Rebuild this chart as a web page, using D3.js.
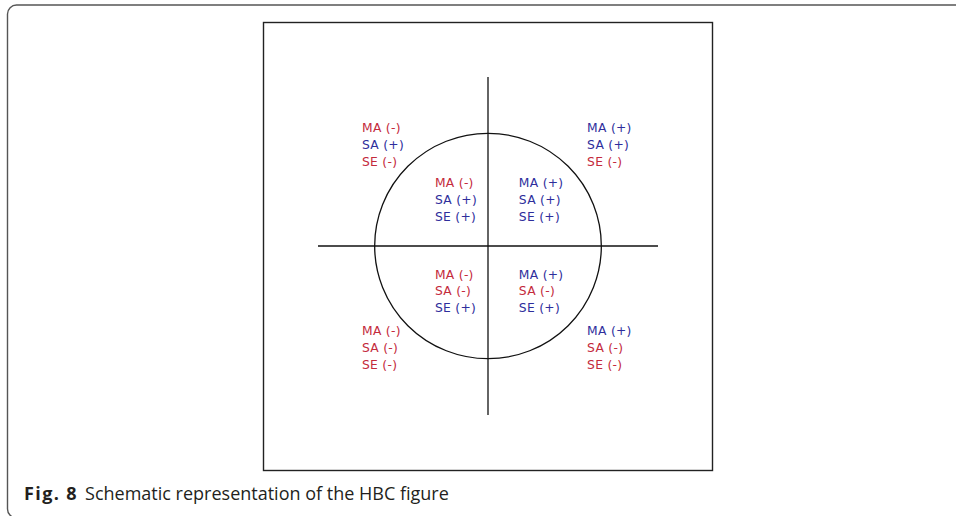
<!DOCTYPE html>
<html><head><meta charset="utf-8">
<script src="https://cdn.jsdelivr.net/npm/d3@7"></script>
<style>body{margin:0;background:#fff;}svg{display:block;}</style>
</head><body>
<script>
// Data: HBC quadrant labels (signs for MA, SA, SE) in each region
const measures = ["MA", "SA", "SE"];
const regions = ["outerTL", "outerTR", "innerTL", "innerTR", "innerBL", "innerBR", "outerBL", "outerBR"];
const maSigns = ["-", "+", "-", "+", "-", "+", "-", "+"];
const saSigns = ["+", "+", "+", "+", "-", "-", "-", "-"];
const seSigns = ["-", "-", "+", "+", "+", "+", "-", "-"];
const caption = ["Fig. 8", "Schematic representation of the HBC figure"];

const W = 956, H = 516;
const svg = d3.select("body").append("svg").attr("width", W).attr("height", H);
const red = "#c42a3c", blue = "#2e2e9c";

// outer card frame
svg.append("rect").attr("x", 7.5).attr("y", 5).attr("width", 1000).attr("height", 513)
  .attr("rx", 9).attr("fill", "none").attr("stroke", "#555").attr("stroke-width", 1.4);

// inner box
svg.append("rect").attr("x", 263.5).attr("y", 22.5).attr("width", 449).attr("height", 448)
  .attr("fill", "#fff").attr("stroke", "#222").attr("stroke-width", 1.4);

const x = d3.scaleLinear().domain([-1.5, 1.5]).range([318, 658]);
const y = d3.scaleLinear().domain([-1.5, 1.5]).range([415, 77]);

const g = svg.append("g");
g.append("line").attr("x1", x(-1.5)).attr("x2", x(1.5)).attr("y1", y(0)).attr("y2", y(0))
  .attr("stroke", "#111").attr("stroke-width", 1.3);
g.append("line").attr("x1", x(0)).attr("x2", x(0)).attr("y1", y(-1.5)).attr("y2", y(1.5))
  .attr("stroke", "#111").attr("stroke-width", 1.3);
g.append("ellipse").attr("cx", x(0)).attr("cy", y(0))
  .attr("rx", x(1) - x(0)).attr("ry", y(0) - y(1))
  .attr("fill", "none").attr("stroke", "#111").attr("stroke-width", 1.3);

// anchor (data units) of each region's label block: left edge and block centre
const anchors = {
  outerTL: [-1.112, 0.90], outerTR: [0.874, 0.90],
  innerTL: [-0.468, 0.41], innerTR: [0.272, 0.41],
  innerBL: [-0.468, -0.40], innerBR: [0.272, -0.40],
  outerBL: [-1.112, -0.90], outerBR: [0.874, -0.90]
};
const lineH = 16.8;
regions.forEach((r, i) => {
  const signs = [maSigns[i], saSigns[i], seSigns[i]];
  const [ax, ay] = anchors[r];
  const t = g.append("text").attr("x", x(ax)).attr("y", y(ay))
    .attr("font-family", "DejaVu Sans, sans-serif").attr("font-size", 12.3)
    .attr("letter-spacing", 0.3);
  measures.forEach((m, k) => {
    t.append("tspan").attr("x", x(ax)).attr("y", y(ay) + (k - 1) * lineH)
      .attr("dy", "0.35em")
      .attr("fill", signs[k] === "+" ? blue : red)
      .text(`${m} (${signs[k]})`);
  });
});

// caption
const cap = svg.append("text").attr("x", 24).attr("y", 500)
  .attr("font-family", "Open Sans, sans-serif").attr("font-size", 18).attr("fill", "#231f20");
cap.append("tspan").attr("font-weight", "bold").attr("letter-spacing", 1.4).text(caption[0]);
cap.append("tspan").attr("dx", 7).text(caption[1]);
</script>
</body></html>
